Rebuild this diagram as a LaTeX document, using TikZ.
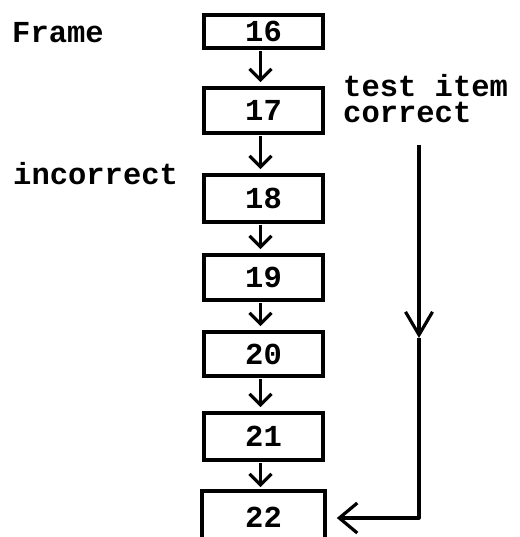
\documentclass[tikz,border=0pt]{standalone}
\usepackage{fontspec}
\setmonofont{Liberation Mono}
\usetikzlibrary{arrows.meta}
\tikzset{
  lbl/.style={font=\ttfamily\bfseries\fontsize{30.5}{34}\selectfont, inner sep=0pt,
    text height=18pt, text depth=1pt, anchor=base west},
  framebox/.style={draw, line width=3.6pt, minimum width=119pt, inner sep=0pt,
    font=\ttfamily\bfseries\fontsize{30.5}{34}\selectfont},
  flow/.style={line width=3.2pt, -{Straight Barb[length=11pt,width=22pt,line width=3.2pt]}, shorten >=4pt, shorten <=1pt},
  ret/.style={line width=3.2pt}
}
\begin{document}
\begin{tikzpicture}[x=1pt,y=-1pt]
\useasboundingbox (0,0) rectangle (519,537);
\clip (0,0) rectangle (519,537);
% labels
\node[lbl] (tframe) at (12,43) {Frame};
\node[lbl] (tinc) at (13,185) {incorrect};
\node[lbl] (ttest) at (343,97) {test item};
\node[lbl] (tcorr) at (343,123) {correct};
% boxes
\node[framebox, minimum height=33pt] (n16) at (263.5,31.5) {16};
\node[framebox, minimum height=45pt] (n17) at (263.5,110.5) {17};
\node[framebox, minimum height=47pt] (n18) at (263.5,198.5) {18};
\node[framebox, minimum height=45pt] (n19) at (263.5,277.5) {19};
\node[framebox, minimum height=44pt] (n20) at (263.5,354) {20};
\node[framebox, minimum height=47pt] (n21) at (263.5,436.5) {21};
\node[framebox, draw=none, minimum height=48pt] (n22) at (263.5,517) {22};
\draw[line width=3.6pt] (n22.south west) -- (n22.north west) -- (n22.north east) -- (n22.south east);
% flow arrows
\foreach \a/\b in {n16/n17, n17/n18, n18/n19, n19/n20, n20/n21, n21/n22}
  \draw[flow] ([xshift=-3pt]\a.south) -- ([xshift=-3pt]\b.north);
% return path
\coordinate (cT) at (419,145);
\coordinate (cM) at (419,338);
\coordinate (cB) at (419,518);
\draw[ret, -{Straight Barb[length=23pt,width=27pt,line width=3.2pt]}] (cT) -- (cM);
\draw[ret, -{Straight Barb[length=18pt,width=30pt,line width=3.2pt]}, shorten >=12pt, line join=round]
  (cM) -- (cB) -- (n22.east |- cB);
\end{tikzpicture}
\end{document}
